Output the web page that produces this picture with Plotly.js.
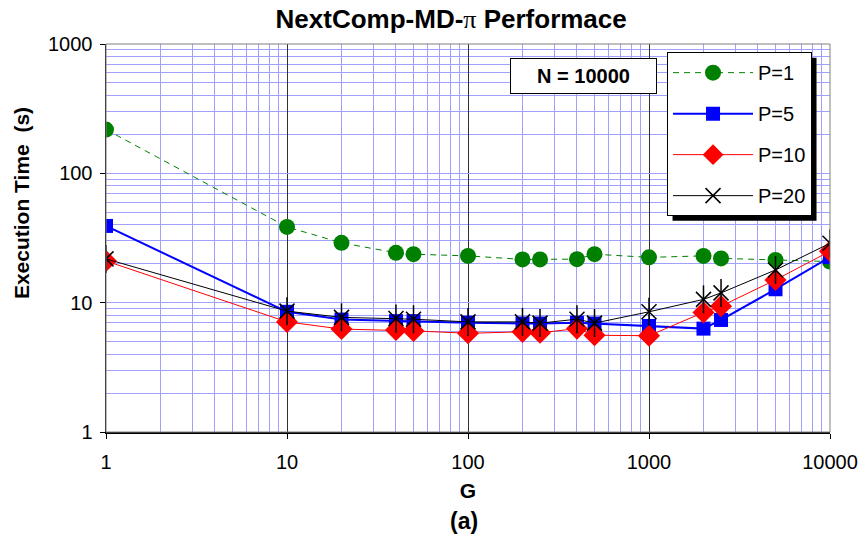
<!DOCTYPE html>
<html>
<head>
<meta charset="utf-8">
<script src="https://cdn.plot.ly/plotly-3.0.1.min.js"></script>
<style>html,body{margin:0;padding:0;background:#fff;}#chart{width:861px;height:537px;}</style>
</head>
<body>
<div id="chart"></div>
<script>
const G   = [1, 10, 20, 40, 50, 100, 200, 250, 400, 500, 1000, 2000, 2500, 5000, 10000];
const P1  = [218, 38.5, 29, 24.3, 23.7, 23.0, 21.6, 21.6, 21.7, 23.7, 22.4, 23.0, 22.0, 21.4, 20.8];
const P5  = [39.2, 8.5, 7.4, 7.2, 7.2, 7.0, 6.9, 6.9, 7.0, 6.9, 6.6, 6.3, 7.35, 12.7, 22.5];
const P10 = [21.0, 7.1, 6.25, 6.15, 6.05, 5.8, 5.95, 5.85, 6.3, 5.6, 5.55, 8.4, 9.4, 15.0, 25.0];
const P20 = [21.8, 8.6, 7.7, 7.55, 7.45, 7.1, 7.1, 6.95, 7.45, 6.95, 8.5, 10.6, 11.9, 17.9, 28.8];
const seriesNames = ['P=1', 'P=5', 'P=10', 'P=20'];
const xTicks = [1, 10, 100, 1000, 10000];
const yTicks = [1, 10, 100, 1000];

const font = 'Liberation Sans, Arial, sans-serif';
const traces = [
  {x: G, y: P1, name: seriesNames[0], legendgroup: 'a', mode: 'lines+markers',
   line: {color: '#008000', width: 1, dash: '6px,5px'},
   marker: {symbol: 'circle', size: 16, color: '#008000'}},
  {x: G, y: P5, name: seriesNames[1], legendgroup: 'b', mode: 'lines+markers',
   line: {color: '#0000ff', width: 2},
   marker: {symbol: 'square', size: 14, color: '#0000ff'}},
  {x: G, y: P10, name: seriesNames[2], legendgroup: 'c', mode: 'lines+markers',
   line: {color: '#ff0000', width: 1},
   marker: {symbol: 'diamond', size: 17, color: '#ff0000'}},
  {x: G, y: P20, name: seriesNames[3], legendgroup: 'd', mode: 'lines+markers',
   line: {color: '#000000', width: 1},
   marker: {symbol: 'x-thin-open', size: 15, color: '#000000', line: {width: 1.5, color: '#000000'}}},
  {x: G, y: P20, name: seriesNames[3], legendgroup: 'd', mode: 'markers', showlegend: false,
   marker: {symbol: 'line-ns-open', size: 20, color: '#000000', line: {width: 1.5, color: '#000000'}}}
];

const gridBlue = '#a0a0ff';
const layout = {
  width: 861, height: 537,
  margin: {l: 106, r: 31, t: 44, b: 105},
  paper_bgcolor: '#ffffff', plot_bgcolor: '#ffffff',
  font: {family: font, color: '#000'},
  showlegend: true,
  title: {text: '<b>NextComp-MD-</b><span style="font-family:Liberation Serif">π</span><b> Performace</b>',
          font: {size: 26, family: font}, x: 0.524, xanchor: 'center', y: 0.964, yanchor: 'middle'},
  xaxis: {type: 'log', range: [0, 4], tickvals: xTicks, ticktext: xTicks.map(String),
          tickfont: {size: 20}, ticks: 'outside', ticklen: 5, tickcolor: '#000',
          ticklabelstandoff: 6,
          showline: true, linecolor: '#000', linewidth: 1.5,
          showgrid: true, gridcolor: '#303030', gridwidth: 1, zeroline: false,
          minor: {dtick: 'D1', showgrid: true, gridcolor: gridBlue, gridwidth: 1, ticks: ''},
          title: {text: '<b>G</b>', font: {size: 21}, standoff: 12}},
  yaxis: {type: 'log', range: [0, 3], tickvals: yTicks, ticktext: yTicks.map(String),
          tickfont: {size: 20}, ticks: 'outside', ticklen: 5, tickcolor: '#000',
          ticklabelstandoff: 3,
          showline: true, linecolor: '#000', linewidth: 1.5,
          showgrid: true, gridcolor: gridBlue, gridwidth: 1, zeroline: false,
          minor: {dtick: 'D1', showgrid: true, gridcolor: gridBlue, gridwidth: 1, ticks: ''}},
  legend: {x: 0.7749, y: 0.979, xanchor: 'left', yanchor: 'top',
           bgcolor: '#ffffff', bordercolor: '#000', borderwidth: 1,
           font: {size: 20, family: font}, itemwidth: 80, tracegroupgap: 12,
           traceorder: 'grouped'},
  shapes: [
    {type: 'rect', xref: 'paper', yref: 'paper', x0: 0, x1: 1, y0: 0, y1: 1,
     line: {color: '#808080', width: 1}, layer: 'above'},
    {type: 'rect', xref: 'paper', yref: 'paper', x0: 0.7818, x1: 0.986, y0: 0.5515, y1: 0.9665,
     fillcolor: '#000', line: {width: 0}, layer: 'above'}
  ],
  annotations: [
    {text: '<b>Execution Time  (s)</b>', xref: 'paper', yref: 'paper', x: -0.1174, y: 0.59,
     xanchor: 'center', yanchor: 'middle', textangle: -90, showarrow: false, font: {size: 21}},
    {text: '<b>N = 10000</b>', xref: 'paper', yref: 'paper', x: 0.6595, y: 0.918,
     xanchor: 'center', yanchor: 'middle', showarrow: false, font: {size: 20},
     bgcolor: '#fff', bordercolor: '#000', borderwidth: 1, borderpad: 1, width: 143, height: 32},
    {text: '<b>(a)</b>', xref: 'paper', yref: 'paper', x: 0.4945, y: -0.229,
     xanchor: 'center', yanchor: 'middle', showarrow: false, font: {size: 23}}
  ]
};

Plotly.newPlot('chart', traces, layout, {displayModeBar: false, staticPlot: true}).then(function (gd) {
  // place the legend's drop shadow from the legend box that was actually drawn
  const bg = gd.querySelector('.legend .bg');
  if (!bg) return;
  const r = bg.getBoundingClientRect();
  const c = gd.getBoundingClientRect();
  const fs = gd._fullLayout._size;
  const off = 5;
  const px = v => (v - c.left - fs.l) / fs.w;
  const py = v => 1 - (v - c.top - fs.t) / fs.h;
  return Plotly.relayout(gd, {
    'shapes[1].x0': px(r.left + off), 'shapes[1].x1': px(r.right + off),
    'shapes[1].y0': py(r.bottom + off), 'shapes[1].y1': py(r.top + off)
  });
});
</script>
</body>
</html>
